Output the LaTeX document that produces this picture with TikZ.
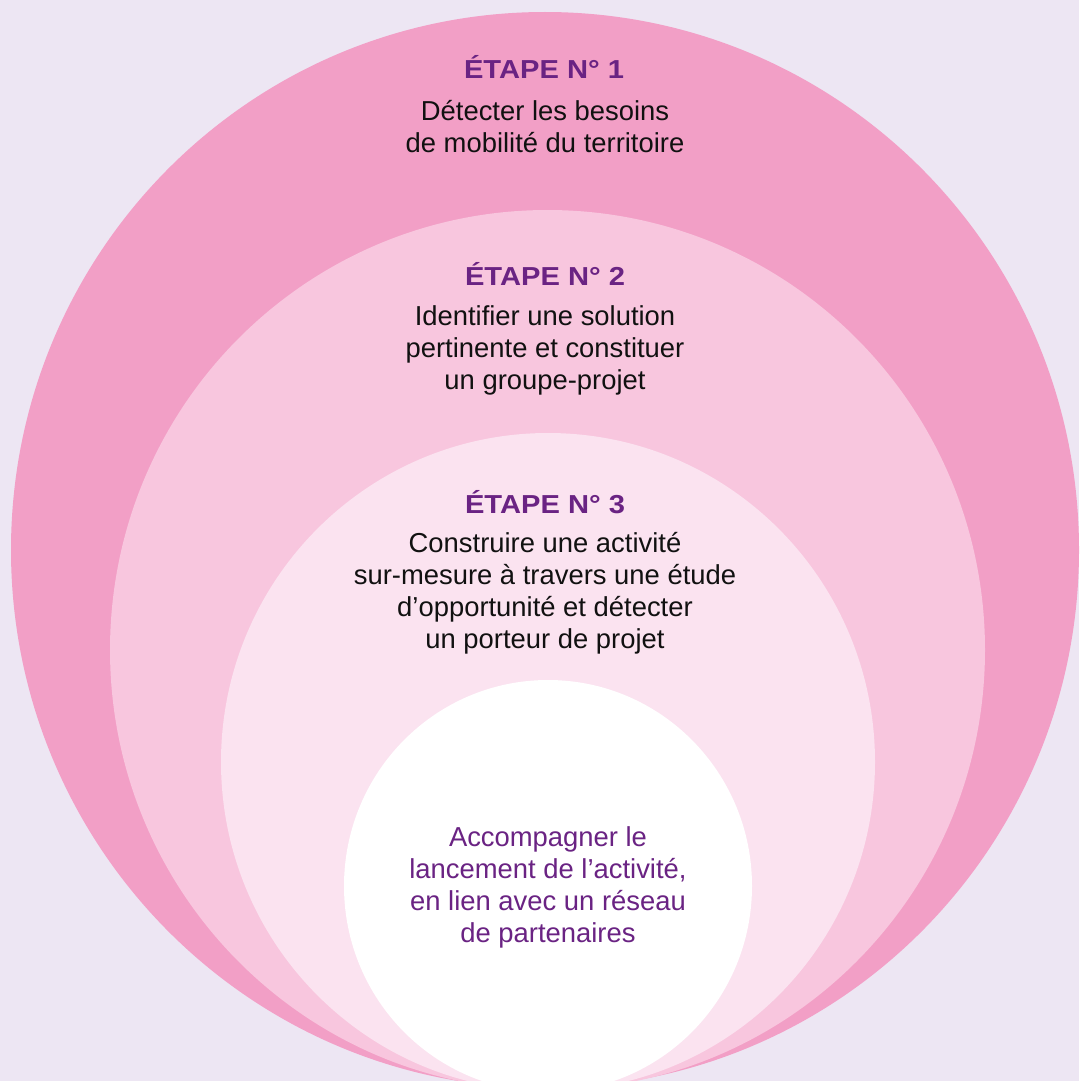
\documentclass[tikz,border=0pt]{standalone}
\usepackage{fontspec}
\setmainfont{Liberation Sans}
\newfontfamily\titlefont[FakeStretch=1.12]{Liberation Sans}
\definecolor{bg}{HTML}{EDE6F3}
\definecolor{pinkA}{HTML}{F29FC6}
\definecolor{pinkB}{HTML}{F8C6DE}
\definecolor{pinkC}{HTML}{FBE3F0}
\definecolor{purp}{HTML}{6A2383}
\definecolor{ink}{HTML}{111111}
\begin{document}
\begin{tikzpicture}[x=1pt,y=-1pt,
  steptitle/.style={font=\titlefont\bfseries\fontsize{26}{30}\selectfont, text=purp, inner sep=0pt, anchor=base},
  stepbody/.style={font=\fontsize{27.4}{31.7}\selectfont, text=ink, align=center, inner sep=0pt, anchor=base},
  corebody/.style={stepbody, text=purp}]
\useasboundingbox (0,0) rectangle (1079,1081);
\clip (0,0) rectangle (1079,1081);
\fill[bg] (0,0) rectangle (1079,1081);
\fill[pinkA] (545,550) ellipse [x radius=534pt, y radius=538pt];
\fill[pinkB] (547.5,650) ellipse [x radius=437.5pt, y radius=440pt];
\fill[pinkC] (548,762) ellipse [x radius=327pt, y radius=329pt];
\fill[white] (548,886) ellipse [x radius=204pt, y radius=206pt];

% base anchor of a multi-line node = baseline of its last line
\node[steptitle] (t1) at (544,78.5) {ÉTAPE N° 1};
\node[stepbody] (b1) at (545,152) {Détecter les besoins\\de mobilité du territoire};
\node[steptitle] (t2) at (545,285.5) {ÉTAPE N° 2};
\node[stepbody] (b2) at (545,389) {Identifier une solution\\pertinente et constituer\\un groupe-projet};
\node[steptitle] (t3) at (545,513) {ÉTAPE N° 3};
\node[stepbody] (b3) at (545,648) {Construire une activité\\sur-mesure à travers une étude\\d’opportunité et détecter\\un porteur de projet};
\node[corebody] (c4) at (548,942) {Accompagner le\\lancement de l’activité,\\en lien avec un réseau\\de partenaires};
\end{tikzpicture}
\end{document}
